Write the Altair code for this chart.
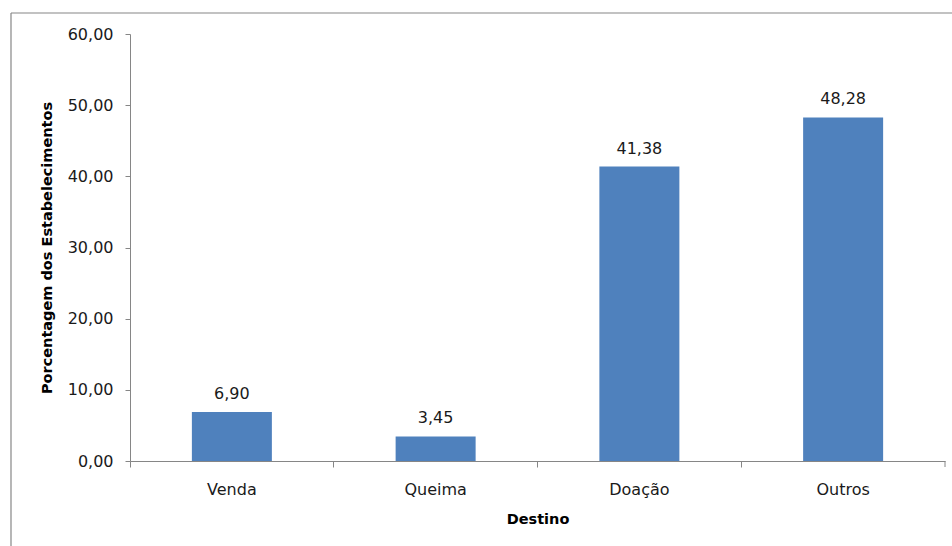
import altair as alt
import pandas as pd

# Destino dos resíduos: porcentagem dos estabelecimentos
categorias = ["Venda", "Queima", "Doação", "Outros"]
porcentagens = [6.90, 3.45, 41.38, 48.28]
y_ticks = [0, 10, 20, 30, 40, 50, 60]

df = pd.DataFrame({"Destino": categorias, "Porcentagem": porcentagens})
df["rotulo"] = [f"{v:.2f}".replace(".", ",") for v in porcentagens]
um = pd.DataFrame({"k": [0]})

W, H = 815, 427
CINZA = "#868686"
AZUL = "#4F81BD"
FONTE = "DejaVu Sans"
TEXTO = "#1a1a1a"

x_enc = alt.X(
    "Destino:N",
    sort=categorias,
    scale=alt.Scale(paddingInner=0, paddingOuter=0),
    axis=alt.Axis(
        title="Destino",
        labelAngle=0,
        bandPosition=0,
        tickSize=6,
        labelPadding=14,
        labelFont=FONTE,
        labelFontSize=16,
        labelColor=TEXTO,
        domainColor=CINZA,
        tickColor=CINZA,
        titleFont=FONTE,
        titleFontSize=14.5,
        titleFontWeight="bold",
        titleColor="#000000",
        titleY=51,
        titleBaseline="top",
    ),
)

y_enc = alt.Y(
    "Porcentagem:Q",
    scale=alt.Scale(domain=[0, 60], nice=False),
    axis=alt.Axis(
        title="Porcentagem dos Estabelecimentos",
        values=y_ticks,
        grid=False,
        tickSize=5,
        labelPadding=12,
        labelExpr="replace(format(datum.value, '.2f'), '.', ',')",
        labelFont=FONTE,
        labelFontSize=16,
        labelColor=TEXTO,
        domainColor=CINZA,
        tickColor=CINZA,
        titleFont=FONTE,
        titleFontSize=14.5,
        titleFontWeight="bold",
        titleColor="#000000",
        titleAngle=-90,
        titleX=-83,
        titleY=H / 2,
        titleAlign="center",
        titleBaseline="middle",
    ),
)

barras = alt.Chart(df).mark_bar(size=80, color=AZUL).encode(x=x_enc, y=y_enc)

rotulos = alt.Chart(df).mark_text(
    font=FONTE, fontSize=16, color=TEXTO, baseline="alphabetic", dy=-13
).encode(x=alt.X("Destino:N", sort=categorias), y="Porcentagem:Q", text="rotulo:N")

# marca de divisão no fim do eixo x
tick_final = alt.Chart(um).mark_rule(color=CINZA).encode(
    x=alt.value(W), y=alt.value(H), y2=alt.value(H + 6)
)

# moldura da área do gráfico
moldura_esq = alt.Chart(um).mark_rule(color=CINZA, strokeWidth=1.2).encode(
    x=alt.value(-119), y=alt.value(-21), y2=alt.value(H + 120)
)
moldura_topo = alt.Chart(um).mark_rule(color=CINZA, strokeWidth=1.2).encode(
    x=alt.value(-119), x2=alt.value(W + 40), y=alt.value(-21)
)

chart = (
    alt.layer(barras, rotulos, tick_final, moldura_esq, moldura_topo)
    .properties(
        width=W,
        height=H,
        background="white",
        autosize=alt.AutoSizeParams(type="none"),
        padding={"left": 130, "top": 34, "right": 7, "bottom": 85},
    )
    .configure_view(stroke=None)
)

chart.save("out.html", embed_options={"renderer": "svg", "actions": False})
